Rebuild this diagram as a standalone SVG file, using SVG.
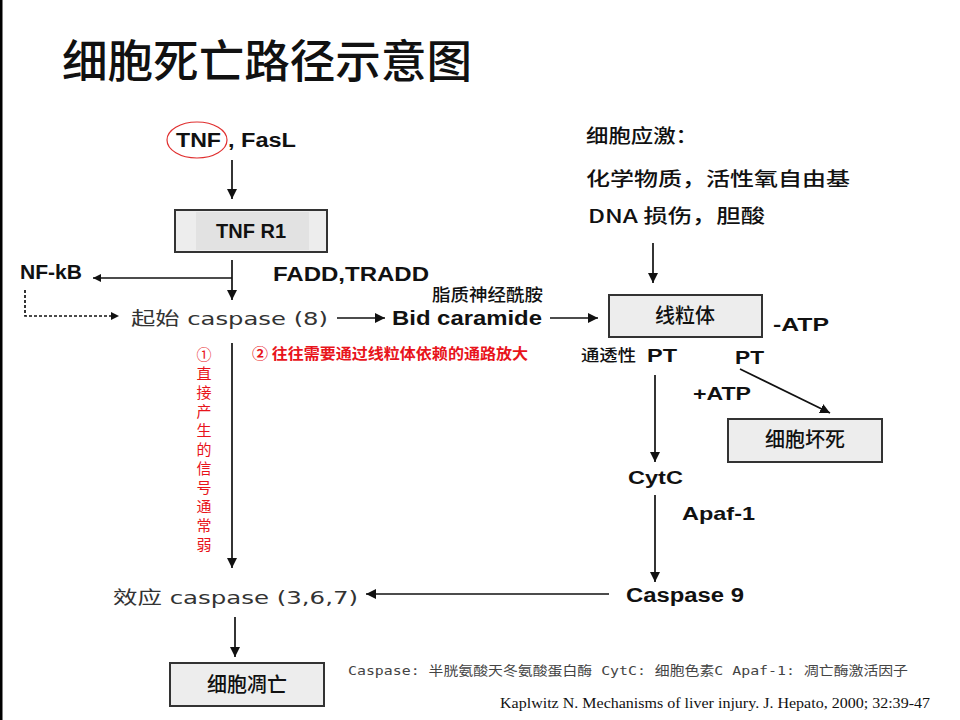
<svg xmlns="http://www.w3.org/2000/svg" width="960" height="720" viewBox="0 0 960 720">
<defs>
<marker id="ah" viewBox="0 0 10 10" refX="10" refY="5" markerWidth="10" markerHeight="10" markerUnits="userSpaceOnUse" orient="auto">
<path d="M0,0 L10,5 L0,10 z" fill="#111"/>
</marker>
<marker id="ahs" viewBox="0 0 10 10" refX="10" refY="5" markerWidth="8" markerHeight="8" markerUnits="userSpaceOnUse" orient="auto">
<path d="M0,0 L10,5 L0,10 z" fill="#111"/>
</marker>
</defs>
<style>
.b{font-family:"Liberation Sans",Arial,sans-serif;font-weight:bold;fill:#111}
.cj{font-family:"Noto Sans CJK SC",sans-serif;fill:#111;font-weight:500}
.mono{font-family:"DejaVu Sans","Noto Sans CJK SC",sans-serif;fill:#333}
.box{fill:#ededed;stroke:#333;stroke-width:2}
.ln{stroke:#111;stroke-width:1.7;fill:none}
.red{fill:#e8141b;font-family:"Noto Sans CJK SC",sans-serif}
</style>
<rect width="960" height="720" fill="#fff"/>
<rect x="0" y="0" width="2.5" height="720" fill="#000"/>
<text x="62" y="78" class="cj" font-size="45" font-weight="bold" textLength="410" lengthAdjust="spacingAndGlyphs">细胞死亡路径示意图</text>

<g id="connectors">
<line class="ln" x1="232" y1="160" x2="232" y2="199" marker-end="url(#ah)"/>
<line class="ln" x1="232" y1="260" x2="232" y2="300" marker-end="url(#ah)"/>
<line class="ln" x1="232" y1="278" x2="93" y2="278" marker-end="url(#ahs)"/>
<path class="ln" d="M25,290 V316 H119" stroke-dasharray="3,2" stroke-width="1.2" marker-end="url(#ahs)"/>
<line class="ln" x1="337" y1="318" x2="385" y2="318" marker-end="url(#ah)"/>
<line class="ln" x1="550" y1="318" x2="598" y2="318" marker-end="url(#ah)"/>
<line class="ln" x1="653" y1="243" x2="653" y2="283" marker-end="url(#ah)"/>
<line class="ln" x1="232" y1="343" x2="232" y2="568" marker-end="url(#ah)"/>
<line class="ln" x1="655" y1="375" x2="655" y2="462" marker-end="url(#ah)"/>
<line class="ln" x1="655" y1="495" x2="655" y2="582" marker-end="url(#ah)"/>
<line class="ln" x1="740" y1="369" x2="830" y2="413" marker-end="url(#ah)"/>
<line class="ln" x1="609" y1="594" x2="366" y2="594" marker-end="url(#ah)"/>
<line class="ln" x1="235" y1="617" x2="235" y2="657" marker-end="url(#ah)"/>
</g>

<g id="tnf">
<ellipse cx="197" cy="140" rx="30" ry="18" fill="none" stroke="#e03030" stroke-width="1.2"/>
<text x="176" y="147" class="b" font-size="20" textLength="45" lengthAdjust="spacingAndGlyphs">TNF</text>
<text x="228" y="147" class="b" font-size="20" textLength="68" lengthAdjust="spacingAndGlyphs">, FasL</text>
</g>
<g id="tnfr1">
<rect class="box" x="175" y="210" width="152" height="42"/>
<rect x="196" y="212" width="113" height="38" fill="#e2e2e2"/>
<text x="251" y="238" class="b" font-size="20" text-anchor="middle">TNF R1</text>
</g>
<g id="nfkb"><text x="20" y="279" class="b" font-size="20" textLength="62" lengthAdjust="spacingAndGlyphs">NF-kB</text></g>
<g id="fadd"><text x="273" y="281" class="b" font-size="20" textLength="156" lengthAdjust="spacingAndGlyphs">FADD,TRADD</text></g>
<g id="initcasp"><text x="131" y="325" class="mono" font-size="18" textLength="197" lengthAdjust="spacingAndGlyphs">起始 caspase (8)</text></g>
<g id="bid">
<text x="432" y="301" class="cj" font-size="17" font-weight="normal" textLength="111" lengthAdjust="spacingAndGlyphs">脂质神经酰胺</text>
<text x="392" y="325" class="b" font-size="20" textLength="150" lengthAdjust="spacingAndGlyphs">Bid caramide</text>
</g>
<g id="stress">
<text x="586" y="143" class="cj" font-size="19" textLength="112" lengthAdjust="spacingAndGlyphs">细胞应激：</text>
<text x="586" y="186" class="cj" font-size="19" textLength="264" lengthAdjust="spacingAndGlyphs">化学物质，活性氧自由基</text>
<text x="588" y="223" class="cj" font-size="19" textLength="177" lengthAdjust="spacingAndGlyphs">DNA 损伤，胆酸</text>
</g>
<g id="mito">
<rect class="box" x="609" y="295" width="153" height="42"/>
<text x="685" y="323" class="cj" font-size="20" text-anchor="middle">线粒体</text>
</g>
<g id="atp-minus"><text x="773" y="331" class="b" font-size="19" textLength="56" lengthAdjust="spacingAndGlyphs">-ATP</text></g>
<g id="pt1">
<text x="581" y="361" class="cj" font-size="16" font-weight="normal" textLength="55" lengthAdjust="spacingAndGlyphs">通透性</text>
<text x="647" y="362" class="b" font-size="19" textLength="30" lengthAdjust="spacingAndGlyphs">PT</text>
</g>
<g id="pt2"><text x="735" y="364" class="b" font-size="19" textLength="29" lengthAdjust="spacingAndGlyphs">PT</text></g>
<g id="atp-plus"><text x="693" y="400" class="b" font-size="19" textLength="58" lengthAdjust="spacingAndGlyphs">+ATP</text></g>
<g id="necrosis">
<rect class="box" x="728" y="419" width="154" height="43"/>
<text x="805" y="447" class="cj" font-size="20" text-anchor="middle">细胞坏死</text>
</g>
<g id="cytc"><text x="628" y="484" class="b" font-size="19" textLength="55" lengthAdjust="spacingAndGlyphs">CytC</text></g>
<g id="apaf"><text x="682" y="520" class="b" font-size="19" textLength="73" lengthAdjust="spacingAndGlyphs">Apaf-1</text></g>
<g id="casp9"><text x="626" y="602" class="b" font-size="20" textLength="118" lengthAdjust="spacingAndGlyphs">Caspase 9</text></g>
<g id="effcasp"><text x="113" y="604" class="mono" font-size="18" textLength="245" lengthAdjust="spacingAndGlyphs">效应 caspase (3,6,7)</text></g>
<g id="apoptosis">
<rect class="box" x="170" y="663" width="154" height="43"/>
<text x="247" y="692" class="cj" font-size="20" text-anchor="middle">细胞凋亡</text>
</g>
<g id="note1" class="red" font-size="15" text-anchor="middle">
<text x="204" y="360">①</text>
<text x="204" y="379">直</text>
<text x="204" y="398">接</text>
<text x="204" y="417">产</text>
<text x="204" y="436">生</text>
<text x="204" y="455">的</text>
<text x="204" y="474">信</text>
<text x="204" y="493">号</text>
<text x="204" y="512">通</text>
<text x="204" y="531">常</text>
<text x="204" y="550">弱</text>
</g>
<g id="note2"><text x="252" y="359" class="red" font-size="15" font-weight="bold" textLength="276" lengthAdjust="spacingAndGlyphs">② 往往需要通过线粒体依赖的通路放大</text></g>
<text x="348" y="675" font-family="'DejaVu Sans Mono','Noto Sans CJK SC',monospace" font-size="13" fill="#444" textLength="560" lengthAdjust="spacingAndGlyphs">Caspase: 半胱氨酸天冬氨酸蛋白酶 CytC: 细胞色素C Apaf-1: 凋亡酶激活因子</text>
<text x="500" y="708" font-family="'Liberation Serif','Times New Roman',serif" font-size="14" fill="#111" textLength="430" lengthAdjust="spacingAndGlyphs">Kaplwitz N. Mechanisms of liver injury. J. Hepato, 2000; 32:39-47</text>
</svg>
